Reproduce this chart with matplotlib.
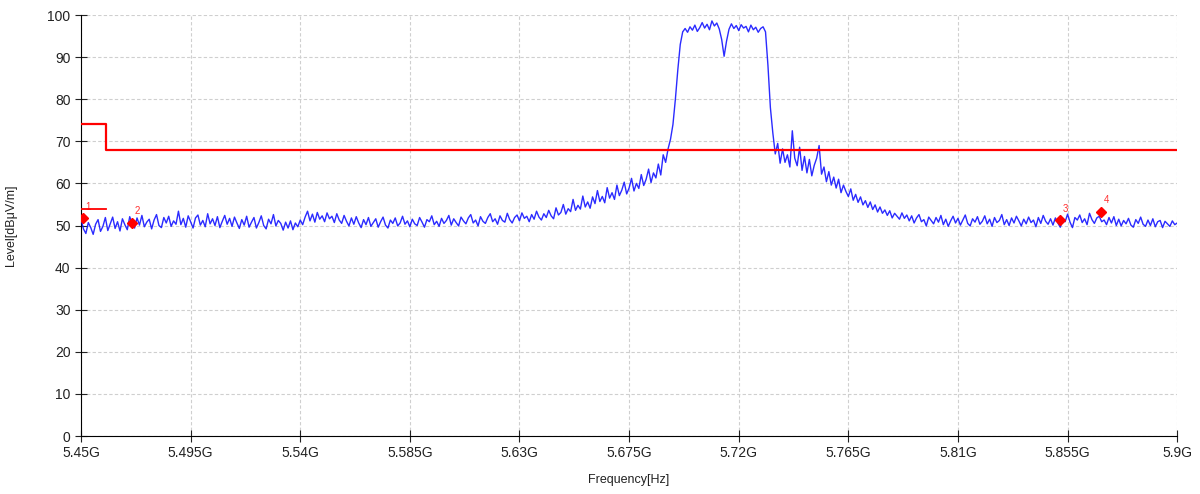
import numpy as np
import matplotlib.pyplot as plt

plt.rcParams['font.family'] = ['Liberation Sans', 'DejaVu Sans']

# measured trace, dBuV/m, equally spaced sweep 5.45G .. 5.9G (1 MHz steps)
level = [
    51.6, 49.2, 48.1, 50.7, 49.5, 47.9, 50.3, 51.4, 48.6, 49.8,
    51.9, 48.8, 50.4, 52.0, 49.3, 50.9, 48.7, 51.6, 50.2, 49.0,
    52.1, 50.5, 49.4, 51.8, 50.1, 52.4, 49.7, 50.8, 51.5, 49.2,
    51.3, 52.6, 50.0, 49.5, 51.9, 50.6, 52.2, 49.8, 51.1, 50.3,
    53.4, 50.2, 51.7, 49.6, 52.3, 50.9, 49.4, 51.8, 52.5, 50.1,
    51.2, 49.7, 52.8, 50.4, 51.6, 50.0, 52.1, 49.5, 51.0, 52.4,
    50.3, 51.7, 49.8, 52.0, 50.6, 49.3, 51.4, 50.1, 52.2, 49.6,
    50.8, 51.9, 49.4, 50.7, 52.3, 50.0, 49.2, 51.5, 50.4, 52.6,
    49.9, 51.2, 50.5, 48.9, 50.8, 49.4, 51.1, 49.0, 50.6, 49.7,
    51.3, 50.2, 52.0, 53.4, 51.1, 52.7, 50.8, 53.1, 51.5, 52.3,
    50.9, 53.0, 51.6, 52.2, 50.7, 52.8, 51.3, 50.5, 52.4, 51.0,
    49.9, 51.8, 50.3, 52.1, 50.6, 49.5, 51.4, 50.2, 51.9, 49.8,
    50.7, 51.6, 49.6, 50.9, 52.0, 50.1, 49.4, 51.3, 50.5, 51.8,
    49.9, 50.6, 52.2, 50.3, 51.1, 49.7, 51.5, 50.4, 50.0, 51.9,
    50.8, 49.6, 51.4, 50.9, 52.3, 50.2, 51.0, 49.8, 51.7, 50.5,
    51.2, 52.4, 50.1, 51.6, 50.7, 49.9, 52.0, 51.1, 50.4, 51.8,
    52.6, 50.6, 51.3, 49.9, 52.1, 51.0, 50.5, 51.9, 52.8, 50.9,
    51.6, 50.3, 52.3, 51.2, 50.8, 52.9, 51.4, 50.6, 51.9, 52.5,
    51.1, 53.0, 51.7, 52.2, 50.9, 52.6, 51.5, 53.4, 52.0, 51.3,
    52.8, 51.9, 53.6, 52.3, 51.6, 54.2, 52.5, 53.1, 55.0, 52.7,
    54.0, 53.3, 56.2, 53.6, 54.8, 53.9, 57.0, 54.4, 55.6, 54.1,
    56.8, 55.2, 58.3, 55.7, 56.9, 55.4, 59.0, 56.5, 57.8, 56.2,
    59.6, 57.1, 58.4, 60.3, 57.5, 58.9, 61.2, 58.2, 60.0, 58.8,
    62.1, 59.5, 61.0, 63.4, 60.2, 62.5, 61.3, 64.6, 62.0, 66.8,
    65.0, 68.2, 70.5, 74.0, 80.0, 87.0, 93.0, 96.0, 96.8, 95.9,
    97.2, 96.4, 97.6, 96.1, 97.0, 98.2, 96.9, 97.8, 96.5, 98.6,
    97.4, 98.1, 96.7, 94.2, 90.2, 93.8, 96.6, 97.9, 96.8, 97.5,
    96.3, 97.7, 96.9, 97.3, 96.0, 97.6, 96.5, 97.1, 95.9, 96.8,
    97.2, 96.0, 88.0, 78.0, 72.0, 67.0, 69.5, 64.8, 68.2, 65.0,
    66.8, 63.9, 72.5, 66.0, 64.2, 68.6, 63.1, 66.4, 62.5, 65.7,
    61.8, 64.3, 66.0, 69.0, 62.2, 63.9, 60.4, 62.8, 59.6, 61.5,
    58.9, 61.0, 57.8, 59.6, 58.1, 56.9, 58.7, 56.0, 57.4, 55.5,
    56.8, 54.9, 55.9, 54.3, 55.6, 53.8, 54.9, 53.2, 54.4, 52.9,
    53.7, 52.4, 53.5, 51.8, 52.9, 52.2, 51.5, 53.0, 51.7, 52.5,
    51.1, 52.3, 50.6, 51.8, 52.6, 50.9, 51.4, 49.9, 52.0, 51.2,
    50.4, 51.9, 50.8, 52.4, 50.2, 51.5, 49.8, 51.1, 52.2, 50.6,
    51.7, 50.1, 51.3, 52.5, 50.5, 49.9, 51.6, 50.8, 52.1, 50.3,
    51.0, 52.3, 50.4, 51.5, 49.8, 51.9, 50.7, 51.2, 52.6, 50.2,
    51.4, 50.0, 51.8, 50.6, 52.2, 51.1, 49.9, 51.5, 50.4, 52.0,
    50.7, 51.3, 49.7, 51.9, 50.5, 52.4, 51.0, 50.3, 51.6, 50.1,
    51.8, 50.6, 49.6, 51.4, 50.9, 52.7, 50.8, 49.5, 51.9, 51.3,
    52.5, 50.7, 51.6, 50.2, 52.9, 51.4, 50.5, 51.8, 52.2, 50.9,
    51.3, 50.2, 51.9, 50.6, 52.1, 50.0, 51.5, 49.9, 51.2, 50.4,
    51.7, 50.1, 49.6, 51.4, 50.5, 52.0, 50.3, 49.8, 51.3, 50.0,
    51.6, 49.7, 50.9, 51.2, 49.5, 51.0, 50.4, 49.8, 51.1, 50.2,
    50.6,
]
f_start, f_stop = 5.45, 5.9  # GHz

# limit line (step)
limit_freq = [5.45, 5.4603, 5.9]
limit_level = [74, 68, 68]
# short display line
disp_freq = [5.45, 5.4603]
disp_level = [54, 54]

# markers
mk_freq = [5.4508, 5.4709, 5.8518, 5.8689]
mk_level = [51.7, 50.7, 51.3, 53.3]
mk_names = ["1", "2", "3", "4"]

xticks = [5.45, 5.495, 5.54, 5.585, 5.63, 5.675, 5.72, 5.765, 5.81, 5.855, 5.9]
xticklabels = ["5.45G", "5.495G", "5.54G", "5.585G", "5.63G", "5.675G",
               "5.72G", "5.765G", "5.81G", "5.855G", "5.9G"]
yticks = [0, 10, 20, 30, 40, 50, 60, 70, 80, 90, 100]

freq = np.linspace(f_start, f_stop, len(level))

fig = plt.figure(figsize=(12, 4.94), dpi=100)
ax = fig.add_axes([0.0675, 0.1174, 0.9135, 0.8522])

ax.plot(freq, level, color="#1414ff", lw=1.0, alpha=0.9, zorder=3)
ax.plot(limit_freq, limit_level, color="#ff0000", lw=1.6, drawstyle="steps-post", zorder=4)
ax.plot(disp_freq, disp_level, color="#ff0000", lw=1.3, zorder=4)
ax.plot(mk_freq, mk_level, "D", color="#ff0000", ms=5, ls="none", zorder=5)
for f, l, n in zip(mk_freq, mk_level, mk_names):
    ax.annotate(n, (f, l), xytext=(2, 6), textcoords="offset points",
                color="#ff3030", fontsize=7)

ax.set_xlim(f_start, f_stop)
ax.set_ylim(0, 100)
ax.set_xticks(xticks)
ax.set_xticklabels(xticklabels)
ax.set_yticks(yticks)
ax.grid(True, color="#cfcfcf", ls=(0, (3, 2)), lw=0.8)
ax.set_axisbelow(True)
for s in ["top", "right"]:
    ax.spines[s].set_visible(False)
ax.tick_params(direction="inout", length=8, labelsize=10, colors="#222222")

ax.set_xlabel("Frequency[Hz]", fontsize=9, color="#222222", labelpad=10)
ax.set_ylabel("Level[dBμV/m]", fontsize=9, color="#222222", labelpad=22)

fig.savefig("out.png", dpi=100)
